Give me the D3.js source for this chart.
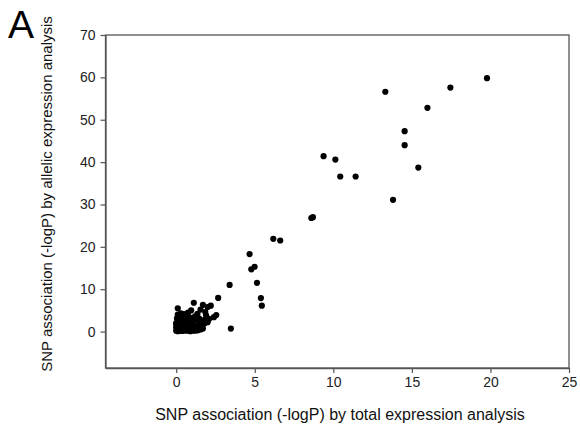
<!DOCTYPE html>
<html><head><meta charset="utf-8">
<script src="https://cdn.jsdelivr.net/npm/d3@7"></script>
<style>body{margin:0;background:#fff}svg{display:block}</style>
</head><body>
<svg id="c" width="580" height="431"></svg>
<script>
// SNP association (-logP): total expression (x) vs allelic expression (y)
const totalX = [
 9.38,10.13,10.44,11.42,15.41,13.8,8.6,8.7,6.18,6.62,4.67,4.99,4.78,5.14,3.4,5.39,5.45,2.67,3.48,
 13.31,17.45,19.78,15.99,14.54,14.54,1.12,1.7,2.2,0.1,0.95,2.55,2.0,1.55,1.85,2.4,
 0.0,0.05,0.1,0.15,0.2,0.3,0.4,0.5,0.6,0.7,0.8,0.9,1.0,1.1,1.2,1.3,1.4,1.55,1.7,
 0.0,0.1,0.2,0.35,0.5,0.65,0.8,0.95,1.1,1.25,1.4,1.6,1.8,2.0,
 0.0,0.1,0.25,0.4,0.55,0.7,0.9,1.05,1.3,1.5,1.75,2.1,
 0.05,0.2,0.35,0.6,0.8,1.0,1.2,1.45,1.9,
 0.1,0.3,0.5,0.75,1.35,
 0.0,0.2,0.45,0.65,0.9,1.15,1.6
];
const allelicY = [
 41.4,40.6,36.6,36.6,38.7,31.1,26.8,27.0,21.9,21.5,18.3,15.3,14.7,11.5,11.0,7.9,6.1,7.95,0.7,
 56.6,57.6,59.8,52.8,47.3,44.0,6.8,6.3,6.1,5.5,5.0,3.9,5.8,5.2,4.6,3.4,
 0.2,0.3,0.1,0.4,0.2,0.3,0.15,0.25,0.35,0.2,0.3,0.1,0.4,0.2,0.3,0.25,0.35,0.5,0.7,
 1.0,1.2,0.9,1.4,1.1,1.3,1.0,1.5,1.2,1.1,1.6,1.3,1.9,2.2,
 2.0,2.4,2.2,2.6,2.1,2.5,2.3,2.0,2.8,2.4,2.7,3.0,
 3.1,3.4,3.0,3.3,3.5,3.2,3.6,3.1,3.8,
 4.0,4.3,4.1,4.5,4.2,
 1.7,1.8,0.6,0.8,0.7,0.6,1.0
];
const xTicks = [0,5,10,15,20,25];
const yTicks = [0,10,20,30,40,50,60,70];
const xLabel = "SNP association (-logP) by total expression analysis";
const yLabel = "SNP association (-logP) by allelic expression analysis";
const panelLabel = "A";

const svg = d3.select("#c");
const L = 105.5, R = 569, T = 35, B = 368;
const x = d3.scaleLinear().domain([-4.5, 25]).range([L, R]);
const y = d3.scaleLinear().domain([-8.6, 70]).range([B, T]);
const axisColor = "#555";
const font = "Arial, 'Liberation Sans', sans-serif";

// frame
svg.append("rect").attr("x", L).attr("y", T).attr("width", R - L).attr("height", B - T)
  .attr("fill", "none").attr("stroke", axisColor).attr("stroke-width", 1.3);

const xa = svg.append("g").attr("transform", `translate(0,${B})`)
  .call(d3.axisBottom(x).tickValues(xTicks).tickSize(5).tickPadding(4).tickSizeOuter(0));
const ya = svg.append("g").attr("transform", `translate(${L},0)`)
  .call(d3.axisLeft(y).tickValues(yTicks).tickSize(5).tickPadding(5).tickSizeOuter(0));
[xa, ya].forEach(g => {
  g.select(".domain").attr("stroke", axisColor).attr("stroke-width", 1.3);
  g.selectAll(".tick line").attr("stroke", axisColor).attr("stroke-width", 1.2);
  g.selectAll(".tick text").attr("fill", "#222").style("font-family", font).style("font-size", "14px");
});

svg.append("g").selectAll("circle").data(totalX.map((v, i) => [v, allelicY[i]]))
  .join("circle").attr("cx", d => x(d[0])).attr("cy", d => y(d[1])).attr("r", 3.1).attr("fill", "#000");

svg.append("text").attr("x", 340).attr("y", 420).attr("text-anchor", "middle")
  .style("font-family", font).style("font-size", "16px").attr("fill", "#111").text(xLabel);
svg.append("text").attr("transform", "translate(52,194) rotate(-90)").attr("text-anchor", "middle")
  .style("font-family", font).style("font-size", "15px").attr("fill", "#111").text(yLabel);
svg.append("text").attr("x", 8).attr("y", 38)
  .style("font-family", font).style("font-size", "39px").attr("fill", "#000").text(panelLabel);
</script>
</body></html>
